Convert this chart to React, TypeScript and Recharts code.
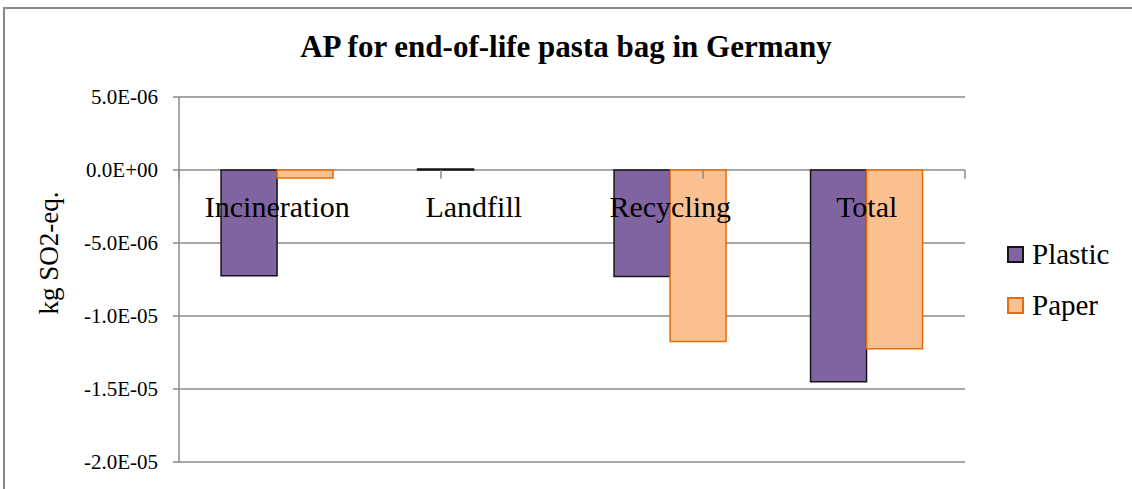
import React from 'react';
import { BarChart, Bar, XAxis, YAxis, CartesianGrid, ReferenceDot, ReferenceLine, Label } from 'recharts';

const categories = ['Incineration', 'Landfill', 'Recycling', 'Total'];
const plasticValues = [-7.25e-6, 6e-8, -7.3e-6, -1.45e-5];
const paperValues = [-5.5e-7, 0, -1.175e-5, -1.225e-5];
const yTicks = [5e-6, 0, -5e-6, -1e-5, -1.5e-5, -2e-5];

const series = [
  { key: 'plastic', name: 'Plastic', fill: '#8064A2', stroke: '#141414' },
  { key: 'paper', name: 'Paper', fill: '#FAC090', stroke: '#E46C0A' },
];

const FONT = '"Liberation Serif", serif';
const GRID = '#8a8a8a';

// Excel style scientific labels, e.g. 5.0E-06
function sci(v: number) {
  if (v === 0) return '0.0E+00';
  const [m, e] = v.toExponential(1).split('e');
  const n = parseInt(e, 10);
  return `${m}E${n < 0 ? '-' : '+'}${String(Math.abs(n)).padStart(2, '0')}`;
}

const chartData = categories.map((c, i) => ({
  category: c,
  plastic: plasticValues[i],
  paper: paperValues[i],
}));

function LegendBox() {
  return (
    <div style={{ position: 'absolute', left: 1007, top: 229, fontFamily: FONT, fontSize: 29, color: '#000' }}>
      {series.map((s) => (
        <div key={s.key} style={{ display: 'flex', alignItems: 'center', height: 51 }}>
          <span
            style={{
              display: 'inline-block',
              width: 13,
              height: 13,
              background: s.fill,
              border: `2px solid ${s.stroke}`,
              marginRight: 8,
            }}
          />
          <span>{s.name}</span>
        </div>
      ))}
    </div>
  );
}

export default function App() {
  return (
    <div style={{ position: 'absolute', left: 0, top: 0, width: 1132, height: 489, overflow: 'hidden', background: '#fff', fontFamily: FONT }}>
      <div
        style={{
          position: 'absolute',
          left: 3,
          top: 7,
          width: 1200,
          height: 600,
          border: `2px solid ${GRID}`,
        }}
      />
      <div
        style={{
          position: 'absolute',
          top: 31,
          left: 0,
          width: 1132,
          textAlign: 'center',
          fontWeight: 'bold',
          fontSize: 31,
          lineHeight: '31px',
        }}
      >
        AP for end-of-life pasta bag in Germany
      </div>
      <div style={{ position: 'absolute', left: 0, top: 0 }}>
        <BarChart
          width={1132}
          height={489}
          data={chartData}
          margin={{ top: 97, right: 167, bottom: 27, left: 0 }}
          barCategoryGap="21.4%"
          barGap={0}
        >
          <CartesianGrid vertical={false} stroke={GRID} strokeWidth={1.5} />
          <XAxis dataKey="category" hide />
          <XAxis xAxisId="edge" type="number" domain={[0, categories.length]} hide allowDataOverflow />
          <YAxis
            width={179}
            domain={[-2e-5, 5e-6]}
            ticks={yTicks}
            interval={0}
            tickFormatter={sci}
            axisLine={{ stroke: GRID, strokeWidth: 1.5 }}
            tickLine={{ stroke: GRID, strokeWidth: 1.5 }}
            tickSize={6}
            tickMargin={15}
            tick={{ fill: '#000', fontFamily: FONT, fontSize: 21 }}
          >
            <Label
              content={() => (
                <text
                  x={49}
                  y={253}
                  transform="rotate(-90 49 253)"
                  textAnchor="middle"
                  dominantBaseline="central"
                  fontFamily={FONT}
                  fontSize={27}
                  fill="#000"
                >
                  kg SO2-eq.
                </text>
              )}
            />
          </YAxis>
          {series.map((s) => (
            <Bar
              key={s.key}
              dataKey={s.key}
              name={s.name}
              fill={s.fill}
              stroke={s.stroke}
              strokeWidth={1.5}
              isAnimationActive={false}
            />
          ))}
          {categories.concat(['']).map((_, i) => (
            <ReferenceLine
              key={`t${i}`}
              xAxisId="edge"
              segment={[
                { x: i, y: 0 },
                { x: i, y: -6e-7 },
              ]}
              stroke={GRID}
              strokeWidth={1.5}
            />
          ))}
          {categories.map((c) => (
            <ReferenceDot key={c} x={c} y={0} r={0} fill="none" stroke="none">
              <Label value={c} position="bottom" offset={26} fill="#000" fontFamily={FONT} fontSize={30} />
            </ReferenceDot>
          ))}
        </BarChart>
      </div>
      <LegendBox />
    </div>
  );
}
